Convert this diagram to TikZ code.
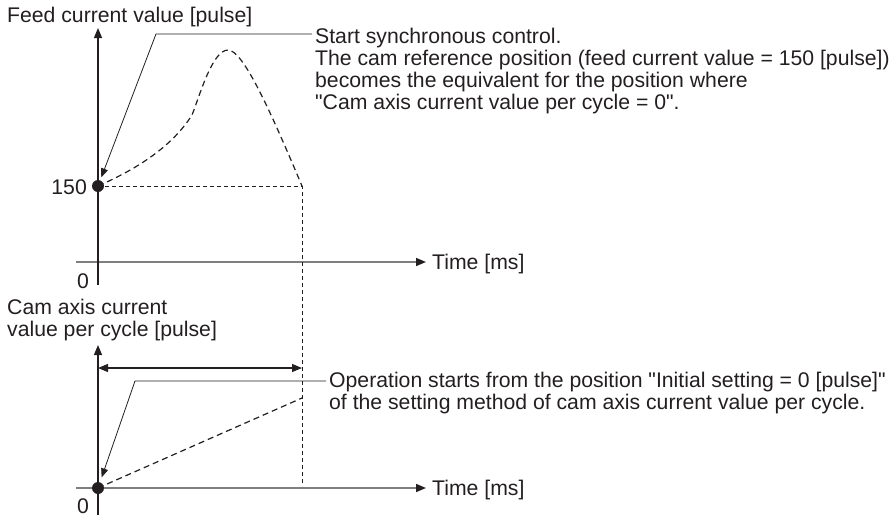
\documentclass[tikz,border=0pt]{standalone}
\usepackage{fontspec}
\setmainfont{Liberation Sans}[Ligatures=TeXOff]
\usepackage{tikz}
\usetikzlibrary{arrows.meta, positioning, calc}

\definecolor{inkgray}{HTML}{231F20}
\definecolor{axisgray}{HTML}{7F7F7F}

\begin{document}
\begin{tikzpicture}[
  x=1pt, y=-1pt,
  >=Stealth,
  every node/.style={font=\fontsize{21.2}{22}\selectfont, text=inkgray, inner sep=0pt},
  % --- line styles ---
  yaxis/.style={-{Triangle[length=10pt, width=8pt]}, line width=1.2pt, draw=inkgray},
  xaxis/.style={-{Triangle[length=10pt, width=8pt, color=inkgray]}, line width=1.5pt, draw=axisgray},
  lead/.style={-{Triangle[length=9pt, width=7pt]}, line width=0.8pt, draw=inkgray},
  span/.style={{Triangle[length=10pt, width=8pt]}-{Triangle[length=10pt, width=8pt]}, line width=1.1pt, draw=inkgray},
  camdash/.style={line width=1.2pt, draw=inkgray, dash pattern=on 6pt off 4pt},
  finedash/.style={line width=0.9pt, draw=inkgray, dash pattern=on 4pt off 3pt},
  dot/.style={circle, fill=inkgray, minimum size=12pt},
  lbl/.style={anchor=base west},
  note/.style={anchor=north west, align=left},
]
\useasboundingbox (0,0) rectangle (895,517);

% ---------- Upper chart: feed current value ----------
\coordinate (y1top) at (98,28);
\coordinate (y1bot) at (98,285);
\coordinate (x1start) at (76,262);
\coordinate (x1end) at (426,262);

\node[lbl] (feedlbl) at (7,22.5) {Feed current value [pulse]};
\node[anchor=east] (v150) at (87,187) {150};
\node[anchor=east] (zero1) at (89,281) {0};
\node[lbl] (time1) at (432,269.5) {Time [ms]};

\draw[xaxis] (x1start) -- (x1end);
\draw[yaxis] (y1bot) -- (y1top);

% cam reference point
\node[dot] (ref1) at (98,186) {};

% cam curve
\coordinate (knee) at (192,115);
\coordinate (peak) at (228,50);
\coordinate (end1) at (302,186);
\coordinate (end2) at (302,483);
\draw[camdash] (ref1.center) .. controls (130,172) and (170,150) .. (knee)
  .. controls (199,98) and (212,50) .. (peak)
  .. controls (243,50) and (270,110) .. (end1);
\draw[finedash] (ref1.center) -- (end1) -- (end2);

% note with leader
\coordinate (bend1) at (156,34);
\coordinate (tap1) at (312,34);
\node[note] (note1) at (315,28)
  {Start synchronous control.\\
   The cam reference position (feed current value = 150 [pulse])\\
   becomes the equivalent for the position where\\
   "Cam axis current value per cycle = 0".};
\draw[lead, shorten >=3pt] (tap1) -- (bend1) -- (ref1);

% ---------- Lower chart: cam axis current value per cycle ----------
\coordinate (y2top) at (98,345);
\coordinate (y2bot) at (98,515);
\coordinate (x2start) at (76,488);
\coordinate (x2end) at (426,488);

\node[note] (camlbl) at (7,299) {Cam axis current\\value per cycle [pulse]};
\node[anchor=east] (zero2) at (89,506.5) {0};
\node[lbl] (time2) at (432,495.5) {Time [ms]};

\draw[xaxis] (x2start) -- (x2end);
\draw[yaxis] (y2bot) -- (y2top);

\node[dot] (ref2) at (98,488) {};

% one cycle span
\coordinate (span1) at (98,368);
\coordinate (span2) at (302,368);
\draw[span] (span1) -- (span2);

% ramp
\coordinate (ramp) at (302,398);
\draw[camdash] (ref2.center) -- (ramp);

% note with leader
\coordinate (bend2) at (135,381);
\coordinate (tap2) at (326,381);
\node[note] (note2) at (329,372)
  {Operation starts from the position "Initial setting = 0 [pulse]"\\
   of the setting method of cam axis current value per cycle.};
\draw[lead, shorten >=5pt] (tap2) -- (bend2) -- (ref2);

\end{tikzpicture}
\end{document}
